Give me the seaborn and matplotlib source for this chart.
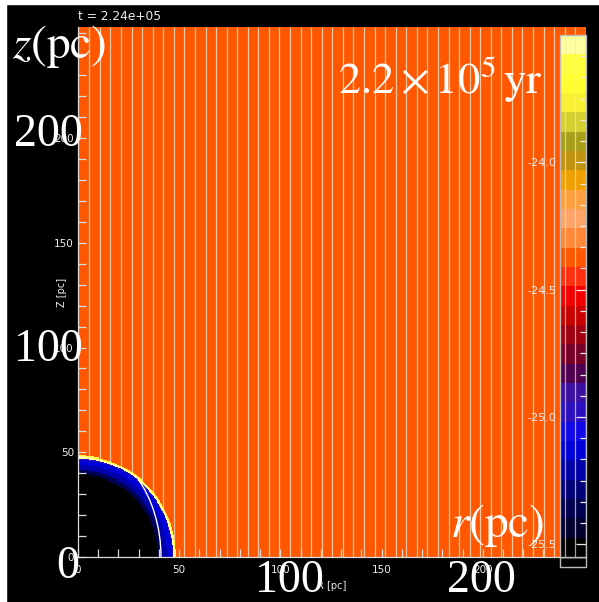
import numpy as np
import pandas as pd
import matplotlib
matplotlib.use('Agg')
import matplotlib.pyplot as plt
import matplotlib.transforms as mtransforms
from matplotlib.colors import ListedColormap
from matplotlib.lines import Line2D
from matplotlib.patches import Ellipse, Circle, Rectangle
from matplotlib.ticker import FixedLocator, FuncFormatter, MultipleLocator
import seaborn as sns

plt.rcParams['mathtext.fontset'] = 'stix'

# bubble structure: outer radius of each shell (pc) and its log density
shell_outer_pc = [39.5, 41.5, 44.0, 46.5, 47.1, 47.9, 48.4]
shell_logrho = [-25.54, -25.36, -25.21, -25.13, -24.98, -23.53, -23.68]
ambient_logrho = -24.37
front_semi_axes_pc = [41.0, 54.0]   # thin white front inside the shell (R, z)
block_edge_start_pc = 5.6           # grid block boundaries seen as thin lines
block_edge_step_pc = 5.22

# discrete colour table of the colour bar, bottom to top
cbar_colors = ['#000000', '#000030', '#000050', '#000078', '#0000a8',
               '#0000d8', '#1008e8', '#2c10c0', '#3c10a0', '#500050',
               '#780028', '#a00010', '#c80000', '#f00000', '#ff3010',
               '#ff5800', '#ff8838', '#ffa468', '#ffa040', '#f0a000',
               '#c09410', '#a8a018', '#d4d030', '#f8f030', '#ffff30',
               '#ffff40', '#ffffa0']
vmin, vmax = -25.55, -23.5
cbar_ticks = [-25.5, -25.0, -24.5, -24.0]
axis_ticks_pc = [0, 50, 100, 150, 200]
xmax_pc, zmax_pc = 251, 253
time_label = 't = 2.24e+05'

S = 2          # heatmap cells per pc
W, H = 599, 602

def fx(px):
    return px / W

def fy(py):
    return 1 - py / H

# density field near the origin (outside the bubble = ambient, left transparent)
n = 60 * S
centers = (np.arange(n) + 0.5) / S
RR, ZZ = np.meshgrid(centers, centers)
radius = np.hypot(RR, ZZ)
shell_index = np.searchsorted(shell_outer_pc, radius, side='right')
field = pd.DataFrame(np.array(shell_logrho + [np.nan])[shell_index])

cmap = ListedColormap(cbar_colors)
ambient_color = cmap((ambient_logrho - vmin) / (vmax - vmin))

fig = plt.figure(figsize=(W / 100, H / 100), dpi=100, facecolor='black')
ax = fig.add_axes([fx(78), fy(557), fx(586) - fx(78), fy(27) - fy(557)])
cax = fig.add_axes([fx(560), fy(557), fx(586) - fx(560), fy(35) - fy(557)])
cax.set_zorder(5)

sns.heatmap(field, ax=ax, cmap=cmap, vmin=vmin, vmax=vmax, cbar_ax=cax,
            xticklabels=False, yticklabels=False,
            cbar_kws={'ticks': cbar_ticks})
ax.set_facecolor(ambient_color)
ax.set_xlim(0, xmax_pc * S)
ax.set_ylim(0, zmax_pc * S)
ax.set_xlabel('')
ax.set_ylabel('')

# block boundary lines in the ambient medium
edges_pc = np.arange(block_edge_start_pc, xmax_pc, block_edge_step_pc)
ax.vlines(edges_pc * S, 0, zmax_pc * S, colors='#f6c6a0', lw=0.9, zorder=0.5)

# thin white front inside the shell
clip = Circle((0, 0), 47.4 * S, transform=ax.transData)
front = Ellipse((0, 0), 2 * front_semi_axes_pc[0] * S, 2 * front_semi_axes_pc[1] * S,
                fill=False, ec='white', lw=1.0, zorder=3)
ax.add_patch(front)
front.set_clip_path(clip)

# axes, ticks
tick_col = '#dcdcdc'
for side in ['left', 'bottom']:
    ax.spines[side].set_visible(True)
    ax.spines[side].set_color(tick_col)
    ax.spines[side].set_linewidth(0.9)
for side in ['top', 'right']:
    ax.spines[side].set_visible(False)
for axis in [ax.xaxis, ax.yaxis]:
    axis.set_major_locator(FixedLocator([v * S for v in axis_ticks_pc]))
    axis.set_major_formatter(FuncFormatter(lambda v, p: f'{v / S:.0f}'))
    axis.set_minor_locator(MultipleLocator(10 * S))
ax.tick_params(which='both', direction='in', colors=tick_col, labelcolor='#eeeeee',
               labelsize=7.5, left=True, bottom=True, top=False, right=False,
               labelleft=True, labelbottom=True, width=0.9)
ax.tick_params(which='major', length=6, pad=3)
ax.tick_params(which='minor', length=6)
ax.tick_params(axis='x', pad=6)

# colour bar
cbar = ax.collections[0].colorbar
cbar.outline.set_edgecolor('#bbbbbb')
cbar.outline.set_linewidth(1.0)
cax.yaxis.set_ticks_position('right')
cax.yaxis.set_major_formatter(FuncFormatter(lambda v, p: f'{v:.1f}'))
cax.yaxis.set_minor_locator(MultipleLocator(1 / 12))
cax.tick_params(axis='y', which='both', direction='in', colors='#eeeeee',
                labelsize=8, left=False, right=True, labelleft=True,
                labelright=False, width=0.9)
cax.tick_params(axis='y', which='major', length=7, pad=3)
cax.tick_params(axis='y', which='minor', length=4)
blend = mtransforms.blended_transform_factory(ax.transData, cax.transAxes)
for e in edges_pc:
    line = Line2D([e * S, e * S], [0, 1], transform=blend, color='#f6e6c0',
                  lw=0.9, alpha=0.7)
    cax.add_artist(line)
fig.add_artist(Rectangle((fx(560), fy(567)), fx(586) - fx(560), fy(557) - fy(567),
                         transform=fig.transFigure, fill=False, ec='#bbbbbb', lw=1.0))

# white page margins on the left and top
fig.add_artist(Rectangle((0, 0), fx(6), 1, transform=fig.transFigure,
                         color='white', zorder=10))
fig.add_artist(Rectangle((0, fy(4)), 1, 1 - fy(4), transform=fig.transFigure,
                         color='white', zorder=10))

# small labels
small = dict(color='#eeeeee', family='DejaVu Sans')
fig.text(fx(78), fy(16), time_label, fontsize=8.8, va='center', ha='left', **small)
fig.text(fx(62), fy(292), 'Z [pc]', fontsize=7, rotation=90, ha='center', va='center', **small)
fig.text(fx(332), fy(586), 'R [pc]', fontsize=7, ha='center', va='center', **small)

# large overlay labels
big = dict(color='white', va='baseline', ha='left', zorder=20)
serif = ['Liberation Serif', 'DejaVu Serif']
fig.text(fx(12), fy(58), r'$z\mathrm{(pc)}$', fontsize=34, **big)
fig.text(fx(14), fy(146), '200', fontsize=33, family=serif, **big)
fig.text(fx(14), fy(361), '100', fontsize=33, family=serif, **big)
fig.text(fx(56), fy(578), '0', fontsize=33, family=serif, **big)
fig.text(fx(255), fy(592), '100', fontsize=33, family=serif, **big)
fig.text(fx(447), fy(592), '200', fontsize=33, family=serif, **big)
fig.text(fx(450), fy(537), r'$r\mathrm{(pc)}$', fontsize=34, **big)
fig.text(fx(338), fy(94), r'$\mathrm{2.2\times10^{5}\,yr}$', fontsize=32, **big)

fig.savefig('out.png', dpi=100, facecolor='black')
